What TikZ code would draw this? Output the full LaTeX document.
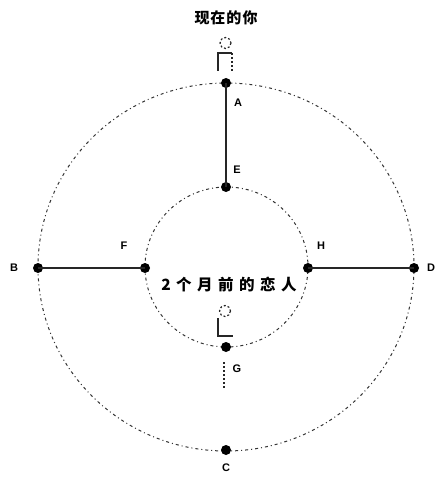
\documentclass[tikz,border=0pt]{standalone}
\usepackage{fontspec}
\setmainfont{Liberation Sans}
\newfontfamily\cjk{Noto Sans CJK SC}
\begin{document}
\begin{tikzpicture}[x=1pt,y=-1pt,
  pt/.style={circle,fill=black,inner sep=0pt,minimum size=10pt},
  lbl/.style={inner sep=1pt,font=\bfseries\fontsize{11}{13}\selectfont},
  ring/.style={draw=black!80,line width=1pt,dash pattern=on 3pt off 3pt on 1pt off 3pt},
  seg/.style={draw=black!85,line width=1.3pt},
  fig/.style={draw=black!85,line width=1.2pt},
  figdot/.style={draw=black!85,line width=1.2pt,dash pattern=on 2pt off 2pt},
  cjktxt/.style={inner sep=0pt,font=\cjk\bfseries\fontsize{15.5}{17}\selectfont}]
\useasboundingbox (0,0) rectangle (436,481);
% circles
\draw[ring] (226,267) ellipse [x radius=188, y radius=184];
\draw[ring] (226.5,267) ellipse [x radius=81.5, y radius=80];
% points
\node[pt] (A) at (226,83) {};
\node[pt] (B) at (38,268) {};
\node[pt] (D) at (414,268) {};
\node[pt] (C) at (226,450) {};
\node[pt] (E) at (226,187) {};
\node[pt] (F) at (145,268) {};
\node[pt] (H) at (308,268) {};
\node[pt] (G) at (226,347) {};
% segments
\draw[seg] (A.center) -- (E.center);
\draw[seg] (B.center) -- (F.center);
\draw[seg] (H.center) -- (D.center);
% labels
\node[lbl] (lA) at (238,103) {A};
\node[lbl] (lB) at (14,268) {B};
\node[lbl] (lD) at (431,268) {D};
\node[lbl] (lC) at (226,468) {C};
\node[lbl] (lE) at (237,170) {E};
\node[lbl] (lF) at (124,246) {F};
\node[lbl] (lH) at (321,246) {H};
\node[lbl] (lG) at (237,369) {G};
\node[cjktxt,font=\cjk\bfseries\fontsize{15}{17}\selectfont] (title) at (226,18) {现\kern1pt 在\kern1pt 的\kern1pt 你};
\node[cjktxt] (inner) at (229,285) {2\kern5.5pt 个\kern5.5pt 月\kern5.5pt 前\kern5.5pt 的\kern5.5pt 恋\kern5.5pt 人};
% figure near A (standing)
\draw[figdot] (225.5,43) circle [radius=5.5];
\draw[fig] (218,71) -- (218,53) -- (232,53);
\draw[figdot] (232,53) -- (232,71);
% figure near G (sitting)
\draw[figdot] (225,311) circle [radius=5.5];
\draw[fig] (218,318) -- (218,336) -- (233,336);
\draw[figdot] (224,362) -- (224,388);
\end{tikzpicture}
\end{document}
